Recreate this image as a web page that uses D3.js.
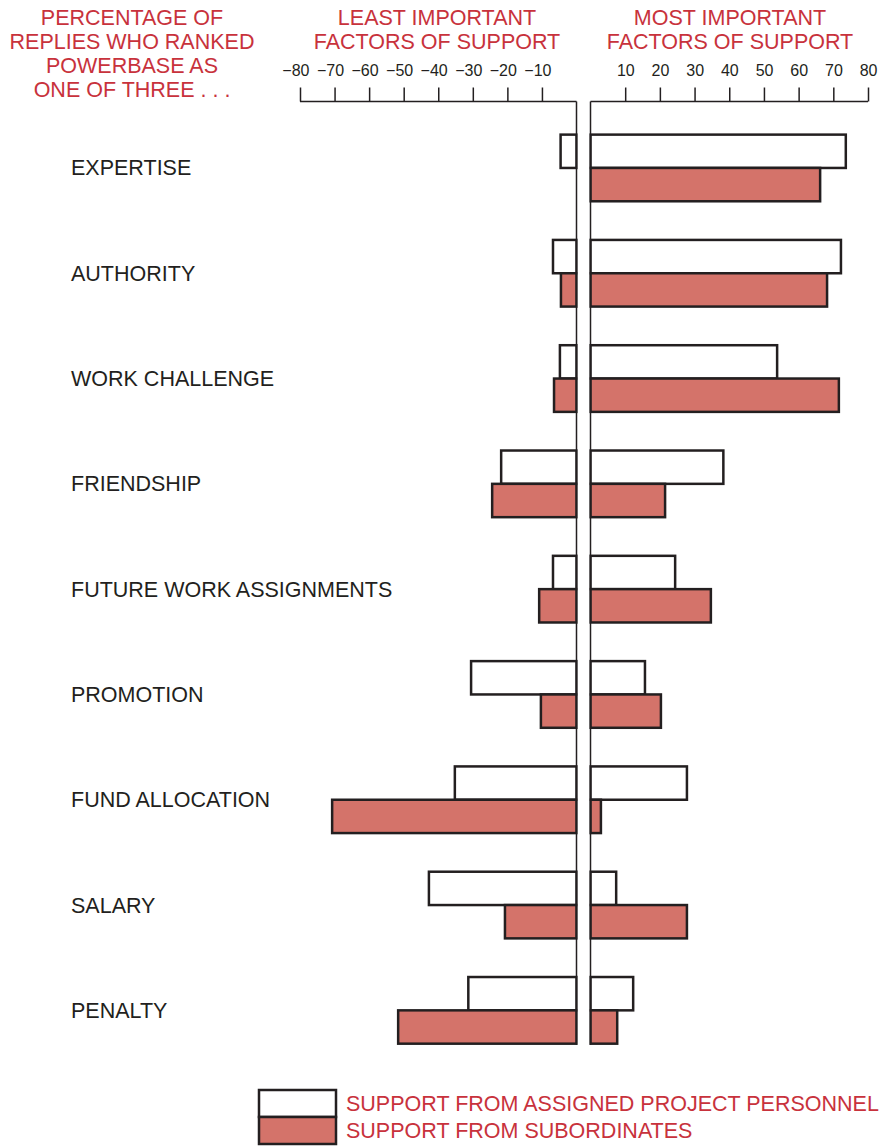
<!DOCTYPE html>
<html>
<head>
<meta charset="utf-8">
<script src="https://cdn.jsdelivr.net/npm/d3@7"></script>
<style>
  html, body { margin: 0; padding: 0; background: #fff; }
  svg { display: block; font-family: 'Liberation Sans', Arial, Helvetica, sans-serif; }
</style>
</head>
<body>
<div id="chart"></div>
<script>
// categories, top to bottom
const categories = [
  'EXPERTISE', 'AUTHORITY', 'WORK CHALLENGE', 'FRIENDSHIP',
  'FUTURE WORK ASSIGNMENTS', 'PROMOTION', 'FUND ALLOCATION', 'SALARY', 'PENALTY'
]

// percentages ranking the powerbase as least (negative) / most important
const assignedLeast = [-4.6, -6.8, -4.8, -21.8, -6.8, -30.5, -35.2, -42.7, -31.3]
const assignedMost = [73.6, 72.2, 53.8, 38.3, 24.4, 15.7, 27.8, 7.4, 12.3]
const subordLeast = [0, -4.5, -6.5, -24.4, -10.8, -10.3, -70.7, -20.7, -51.6]
const subordMost = [66.2, 68.2, 71.6, 21.5, 34.7, 20.3, 3.0, 27.8, 7.7]

const leftTicks = [-80, -70, -60, -50, -40, -30, -20, -10]
const rightTicks = [10, 20, 30, 40, 50, 60, 70, 80]

const series = [
  { name: 'SUPPORT FROM ASSIGNED PROJECT PERSONNEL', least: assignedLeast, most: assignedMost, fill: '#ffffff' },
  { name: 'SUPPORT FROM SUBORDINATES', least: subordLeast, most: subordMost, fill: '#d4736a' },
]

const width = 881
const height = 1146
const red = '#c8323c'
const ink = '#231f20'
const fontSize = '21.5px'

const svg = d3.select('#chart').append('svg')
  .attr('width', width)
  .attr('height', height)

// scales
const xLeft = d3.scaleLinear().domain([-80, 0]).range([300, 576.5])
const xRight = d3.scaleLinear().domain([0, 80]).range([590.5, 868])
const y = d3.scaleBand()
  .domain(categories)
  .range([115.3, 1063])
  .paddingInner(0.367)
  .paddingOuter(0.1835)
const sub = d3.scaleBand().domain([0, 1]).range([0, y.bandwidth()])

const axisY = 101.5

// headings
const headings = [
  { x: 132, lines: ['PERCENTAGE OF', 'REPLIES WHO RANKED', 'POWERBASE AS', 'ONE OF THREE . . .'] },
  { x: 437, lines: ['LEAST IMPORTANT', 'FACTORS OF SUPPORT'] },
  { x: 730, lines: ['MOST IMPORTANT', 'FACTORS OF SUPPORT'] },
]
headings.forEach(h => {
  svg.append('g')
    .selectAll('text')
    .data(h.lines)
    .join('text')
    .attr('x', h.x)
    .attr('y', (d, i) => 25 + i * 24)
    .attr('text-anchor', 'middle')
    .attr('font-size', fontSize)
    .attr('fill', red)
    .text(d => d)
})

// axes
const leftAxis = svg.append('g')
  .attr('transform', `translate(0, ${axisY})`)
  .call(d3.axisTop(xLeft).tickValues(leftTicks).tickSize(14).tickSizeOuter(0).tickFormat(d => '\u2212' + Math.abs(d)))
const rightAxis = svg.append('g')
  .attr('transform', `translate(0, ${axisY})`)
  .call(d3.axisTop(xRight).tickValues(rightTicks).tickSize(14).tickSizeOuter(0))

;[leftAxis, rightAxis].forEach(ax => {
  ax.select('.domain').attr('stroke', ink).attr('stroke-width', 1.5)
  ax.selectAll('.tick line').attr('stroke', ink).attr('stroke-width', 1.5)
  // digits sit centred over the tick, the minus sign hangs to the left
  ax.selectAll('.tick text')
    .attr('font-family', "'Liberation Sans', Arial, sans-serif")
    .attr('font-size', '16px')
    .attr('fill', ink)
    .attr('y', -25.5)
    .attr('dy', 0)
    .attr('text-anchor', 'end')
    .attr('x', 9)
})
// left domain runs from the -80 tick to zero, right one from zero to 80
leftAxis.select('.domain').attr('d', `M${xLeft(-80)},0H${xLeft(0)}`)
rightAxis.select('.domain').attr('d', `M${xRight(0)},0H${xRight(80)}`)

// category labels
svg.append('g')
  .selectAll('text')
  .data(categories)
  .join('text')
  .attr('x', 71)
  .attr('y', d => y(d) + y.bandwidth() / 2 + 7.5)
  .attr('font-size', fontSize)
  .attr('fill', ink)
  .text(d => d)

// bars
series.forEach((s, si) => {
  const g = svg.append('g')
  const rows = categories.map((c, i) => ({ cat: c, least: s.least[i], most: s.most[i] }))

  g.selectAll('rect.least')
    .data(rows.filter(d => d.least < 0))
    .join('rect')
    .attr('class', 'least')
    .attr('x', d => xLeft(d.least))
    .attr('y', d => y(d.cat) + sub(si))
    .attr('width', d => xLeft(0) - xLeft(d.least))
    .attr('height', sub.bandwidth())
    .attr('fill', s.fill)
    .attr('stroke', ink)
    .attr('stroke-width', 2.5)

  g.selectAll('rect.most')
    .data(rows.filter(d => d.most > 0))
    .join('rect')
    .attr('class', 'most')
    .attr('x', xRight(0))
    .attr('y', d => y(d.cat) + sub(si))
    .attr('width', d => xRight(d.most) - xRight(0))
    .attr('height', sub.bandwidth())
    .attr('fill', s.fill)
    .attr('stroke', ink)
    .attr('stroke-width', 2.5)
})

// central gap with its two zero lines
const lastCat = categories[categories.length - 1]
const bottom = y(lastCat) + y.bandwidth()
svg.append('rect')
  .attr('x', xLeft(0) + 1.25)
  .attr('y', axisY)
  .attr('width', xRight(0) - xLeft(0) - 2.5)
  .attr('height', bottom - axisY + 2)
  .attr('fill', '#fff')
svg.append('g')
  .selectAll('line')
  .data([xLeft(0), xRight(0)])
  .join('line')
  .attr('x1', d => d)
  .attr('x2', d => d)
  .attr('y1', axisY)
  .attr('y2', bottom + 1)
  .attr('stroke', ink)
  .attr('stroke-width', 1.5)

// legend
const legend = svg.append('g').attr('transform', 'translate(259, 1090)')
legend.selectAll('rect')
  .data(series)
  .join('rect')
  .attr('x', 0)
  .attr('y', (d, i) => i * 27)
  .attr('width', 77)
  .attr('height', 27)
  .attr('fill', d => d.fill)
  .attr('stroke', ink)
  .attr('stroke-width', 2.5)
legend.selectAll('text')
  .data(series)
  .join('text')
  .attr('x', 87)
  .attr('y', (d, i) => i * 27 + 13.5 + 7.5)
  .attr('font-size', fontSize)
  .attr('fill', red)
  .text(d => d.name)
</script>
</body>
</html>
